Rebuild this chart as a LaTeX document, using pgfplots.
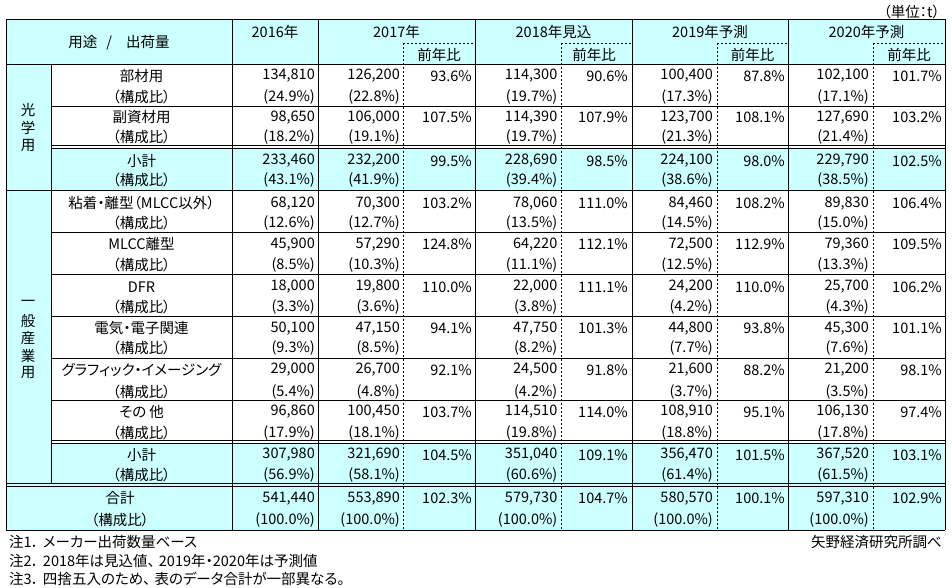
\documentclass[border=0pt]{standalone}
\usepackage{pgfplots}
\pgfplotsset{compat=1.18}
\usepackage{pgfplotstable}
\usepackage{fontspec}
\setmainfont{Noto Sans CJK JP}[RawFeature=+palt]
\definecolor{cyanbg}{HTML}{CCFFFF}

% yv = y of value line, yc = y of composition line (pixel rows, top = 0)
\pgfplotstableread[col sep=semicolon]{
yv;yc;v16;c16;v17;c17;r17;v18;c18;r18;v19;c19;r19;v20;c20;r20
76;96.7;134,810;(24.9\%);126,200;(22.8\%);93.6\%;114,300;(19.7\%);90.6\%;100,400;(17.3\%);87.8\%;102,100;(17.1\%);101.7\%
117.3;137.3;98,650;(18.2\%);106,000;(19.1\%);107.5\%;114,390;(19.7\%);107.9\%;123,700;(21.3\%);108.1\%;127,690;(21.4\%);103.2\%
160.7;180;233,460;(43.1\%);232,200;(41.9\%);99.5\%;228,690;(39.4\%);98.5\%;224,100;(38.6\%);98.0\%;229,790;(38.5\%);102.5\%
203.3;223.3;68,120;(12.6\%);70,300;(12.7\%);103.2\%;78,060;(13.5\%);111.0\%;84,460;(14.5\%);108.2\%;89,830;(15.0\%);106.4\%
244.3;265;45,900;(8.5\%);57,290;(10.3\%);124.8\%;64,220;(11.1\%);112.1\%;72,500;(12.5\%);112.9\%;79,360;(13.3\%);109.5\%
286.7;306.7;18,000;(3.3\%);19,800;(3.6\%);110.0\%;22,000;(3.8\%);111.1\%;24,200;(4.2\%);110.0\%;25,700;(4.3\%);106.2\%
328.3;348.3;50,100;(9.3\%);47,150;(8.5\%);94.1\%;47,750;(8.2\%);101.3\%;44,800;(7.7\%);93.8\%;45,300;(7.6\%);101.1\%
370;391.7;29,000;(5.4\%);26,700;(4.8\%);92.1\%;24,500;(4.2\%);91.8\%;21,600;(3.7\%);88.2\%;21,200;(3.5\%);98.1\%
411.7;433.3;96,860;(17.9\%);100,450;(18.1\%);103.7\%;114,510;(19.8\%);114.0\%;108,910;(18.8\%);95.1\%;106,130;(17.8\%);97.4\%
455;475;307,980;(56.9\%);321,690;(58.1\%);104.5\%;351,040;(60.6\%);109.1\%;356,470;(61.4\%);101.5\%;367,520;(61.5\%);103.1\%
498.3;520;541,440;(100.0\%);553,890;(100.0\%);102.3\%;579,730;(100.0\%);104.7\%;580,570;(100.0\%);100.1\%;597,310;(100.0\%);102.9\%
}\vals

% centred labels: headers, row names, vertical group names
\pgfplotstableread[col sep=semicolon]{
x;y;lab
119;42.7;用途\hspace{9pt}/\hspace{14pt}出荷量
275;32;2016年
396.5;32;2017年
553.5;32;2018年見込
710;32;2019年予測
866.5;32;2020年予測
439;55;前年比
594;55;前年比
752.5;55;前年比
909;55;前年比
141.5;76;部材用
141.5;96.7;（構成比）
141.5;117.3;副資材用
141.5;137.3;（構成比）
141.5;160.7;小計
141.5;180;（構成比）
141.5;203.3;粘着・離型（MLCC以外）
141.5;223.3;（構成比）
141.5;244.3;MLCC離型
141.5;265;（構成比）
141.5;286.7;DFR
141.5;306.7;（構成比）
141.5;328.3;電気・電子関連
141.5;348.3;（構成比）
141.5;370;グラフィック・イメージング
141.5;391.7;（構成比）
141.5;411.7;その\hspace{3pt}他
141.5;433.3;（構成比）
141.5;455;小計
141.5;475;（構成比）
120;498.3;合計
120;520;（構成比）
28;110;光
28;127.7;学
28;145.7;用
28;303;一
28;320.5;般
28;338;産
28;355.5;業
28;373;用
}\labs

\pgfplotstableread[col sep=semicolon]{
x;y;lab
9;542;注1．\hspace{4pt}メーカー出荷数量ベース
9;560.5;注2．\hspace{4pt}2018年は見込値、\hspace{4pt}2019年・2020年は予測値
9;579;注3．\hspace{4pt}四捨五入のため、\hspace{4pt}表のデータ合計が一部異なる。
}\notesL

\pgfplotstableread[col sep=semicolon]{
x;y;lab
942;542;矢野経済研究所調べ
940;12;（単位：t）
}\notesR

\begin{document}
\begin{tikzpicture}
\begin{axis}[
  width=952pt, height=587pt, scale only axis,
  xmin=0, xmax=952, ymin=0, ymax=587, y dir=reverse,
  hide axis, clip=false,
  every axis plot/.append style={only marks, mark=none},
  point meta=explicit symbolic,
  nodes near coords,
  every node near coord/.style={inner sep=0pt, font=\fontsize{14.5}{16}\selectfont},
  txtE/.style={every node near coord/.append style={anchor=east}},
  txtC/.style={every node near coord/.append style={anchor=center}},
  txtW/.style={every node near coord/.append style={anchor=west}},
]
% background
\fill[white] (0,0) rectangle (952,587);
% cyan cells
\fill[cyanbg] (6,19.3) rectangle (945,64.3);
\fill[cyanbg] (6,64.3) rectangle (51,483.3);
\fill[cyanbg] (51,148) rectangle (945,190);
\fill[cyanbg] (51,443.5) rectangle (945,483.3);
\fill[cyanbg] (6,483.3) rectangle (945,530);

% solid grid
\draw[line width=0.8pt] (6,19.3) -- (945,19.3);
\draw[line width=0.8pt] (6,64.3) -- (945,64.3);
\draw[line width=0.8pt] (51,106.7) -- (945,106.7);
\draw[line width=0.8pt] (51,145.2) -- (945,145.2);
\draw[line width=0.8pt] (51,148) -- (945,148);
\draw[line width=0.8pt] (6,190) -- (945,190);
\draw[line width=0.8pt] (51,232.7) -- (945,232.7);
\draw[line width=0.8pt] (51,274.3) -- (945,274.3);
\draw[line width=0.8pt] (51,316) -- (945,316);
\draw[line width=0.8pt] (51,358) -- (945,358);
\draw[line width=0.8pt] (51,400.7) -- (945,400.7);
\draw[line width=0.8pt] (51,440.7) -- (945,440.7);
\draw[line width=0.8pt] (51,443.5) -- (945,443.5);
\draw[line width=0.8pt] (6,483.3) -- (945,483.3);
\draw[line width=0.8pt] (6,486) -- (945,486);
\draw[line width=0.8pt] (6,530) -- (945,530);
\draw[line width=0.8pt] (6,19.3) -- (6,530);
\draw[line width=0.8pt] (232.3,19.3) -- (232.3,530);
\draw[line width=0.8pt] (318,19.3) -- (318,530);
\draw[line width=0.8pt] (475,19.3) -- (475,530);
\draw[line width=0.8pt] (632,19.3) -- (632,530);
\draw[line width=0.8pt] (788,19.3) -- (788,530);
\draw[line width=0.8pt] (945,19.3) -- (945,530);
\draw[line width=0.8pt] (51,64.3) -- (51,483.3);
% dotted grid
\draw[line width=0.8pt, dash pattern=on 2pt off 2pt] (403,43) -- (403,530);
\draw[line width=0.8pt, dash pattern=on 2pt off 2pt] (561,43) -- (561,530);
\draw[line width=0.8pt, dash pattern=on 2pt off 2pt] (717,43) -- (717,530);
\draw[line width=0.8pt, dash pattern=on 2pt off 2pt] (873,43) -- (873,530);
\draw[line width=0.8pt, dash pattern=on 2pt off 2pt] (403,43) -- (475,43);
\draw[line width=0.8pt, dash pattern=on 2pt off 2pt] (561,43) -- (632,43);
\draw[line width=0.8pt, dash pattern=on 2pt off 2pt] (717,43) -- (788,43);
\draw[line width=0.8pt, dash pattern=on 2pt off 2pt] (873,43) -- (945,43);

% values
\addplot[txtE] table[x expr=315, y=yv, meta=v16] {\vals};
\addplot[txtE] table[x expr=315, y=yc, meta=c16] {\vals};
\addplot[txtE] table[x expr=400, y=yv, meta=v17] {\vals};
\addplot[txtE] table[x expr=400, y=yc, meta=c17] {\vals};
\addplot[txtE] table[x expr=472, y=yv, meta=r17] {\vals};
\addplot[txtE] table[x expr=557.5, y=yv, meta=v18] {\vals};
\addplot[txtE] table[x expr=557.5, y=yc, meta=c18] {\vals};
\addplot[txtE] table[x expr=628, y=yv, meta=r18] {\vals};
\addplot[txtE] table[x expr=713, y=yv, meta=v19] {\vals};
\addplot[txtE] table[x expr=713, y=yc, meta=c19] {\vals};
\addplot[txtE] table[x expr=785, y=yv, meta=r19] {\vals};
\addplot[txtE] table[x expr=869, y=yv, meta=v20] {\vals};
\addplot[txtE] table[x expr=869, y=yc, meta=c20] {\vals};
\addplot[txtE] table[x expr=942, y=yv, meta=r20] {\vals};
% labels
\addplot[txtC] table[x=x, y=y, meta=lab] {\labs};
\addplot[txtW] table[x=x, y=y, meta=lab] {\notesL};
\addplot[txtE] table[x=x, y=y, meta=lab] {\notesR};
\end{axis}
\end{tikzpicture}
\end{document}
